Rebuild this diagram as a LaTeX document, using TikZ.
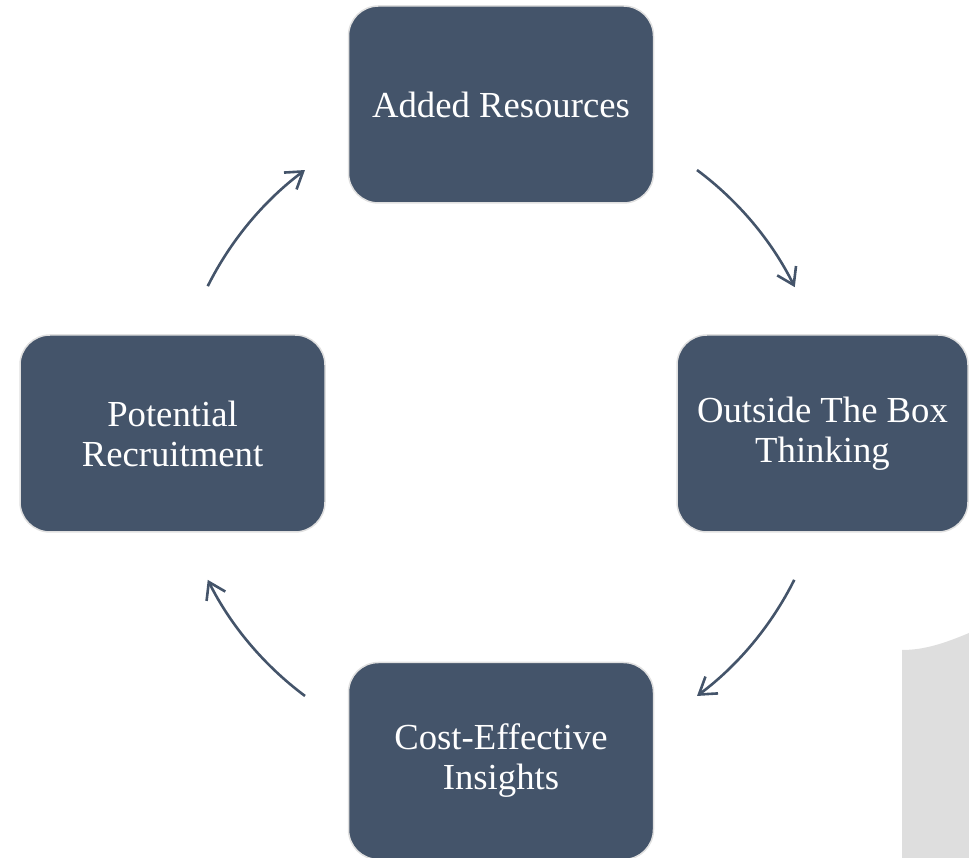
\documentclass[tikz,border=0pt]{standalone}
\usepackage{fontspec}
\setmainfont{Liberation Serif}
\usetikzlibrary{arrows.meta}
\definecolor{boxblue}{HTML}{44546A}
\definecolor{boxrim}{HTML}{E0E0E0}
\definecolor{sheet}{HTML}{DEDEDE}
\begin{document}
\begin{tikzpicture}[x=1pt, y=1pt, box node/.style={rectangle,rounded corners=30pt,draw=boxrim,line width=1.5pt,fill=boxblue,text=white,align=center,minimum width=305pt,minimum height=197pt,inner sep=0pt,font=\fontsize{36.7}{40}\selectfont}, cycle arrow/.style={draw=boxblue,line width=2.6pt,-{Straight Barb[length=16pt,width=21pt]}}]
\useasboundingbox (0,0) rectangle (969,858);
\clip (0,0) rectangle (969,858);
\fill [sheet] (902,0) -- (902,208) .. controls (925,208) and (945,215) .. (969,225) -- (969,0) -- cycle;
\begin{scope}[every node/.style={box node}]
\node (res) at (501,753.5) {Added Resources};
\node [minimum width=291pt] (think) at (822.5,424.5) {Outside The Box\\Thinking};
\node (cost) at (501,97) {Cost-Effective\\Insights};
\node (recr) at (172.5,424.5) {Potential\\Recruitment};
\end{scope}
\coordinate (c) at (501,425);
\path (c) ++(53.3:328) coordinate (a1) ++(0,0);
\path (c) ++(-26.6:328) coordinate (a2);
\path (c) ++(-126.7:328) coordinate (a3);
\path (c) ++(153.4:328) coordinate (a4);
\draw [cycle arrow] (a1) arc [start angle=53.3, end angle=26.4, radius=328];
\draw [cycle arrow] (a2) arc [start angle=-26.6, end angle=-53.3, radius=328];
\draw [cycle arrow] (a3) arc [start angle=-126.7, end angle=-153.4, radius=328];
\draw [cycle arrow] (a4) arc [start angle=153.4, end angle=126.7, radius=328];
\end{tikzpicture}
\end{document}
